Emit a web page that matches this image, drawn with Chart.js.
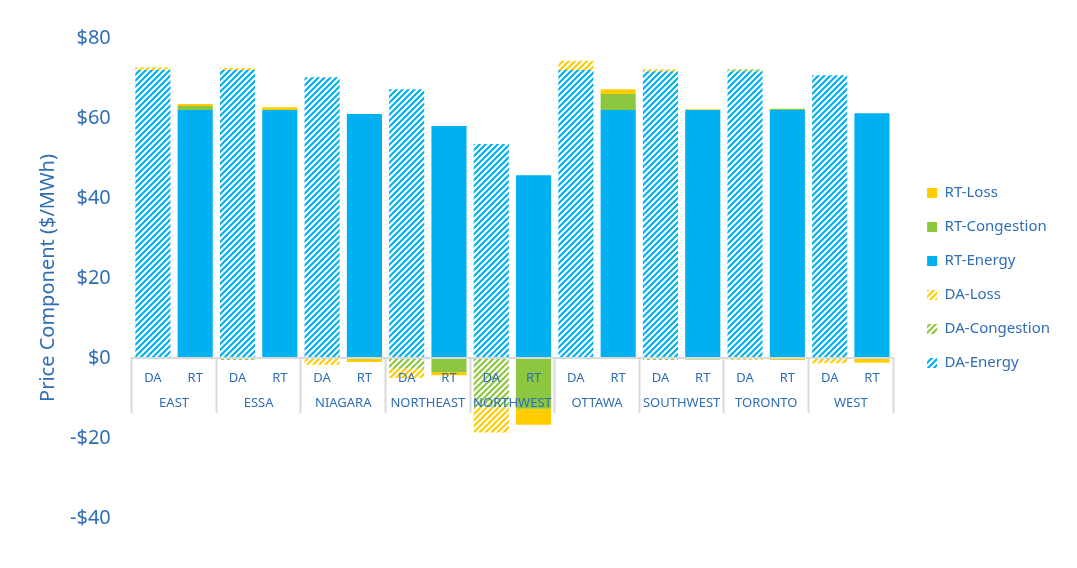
<!DOCTYPE html>
<html>
<head>
<meta charset="utf-8">
<script src="https://cdn.jsdelivr.net/npm/chart.js@4.4.1/dist/chart.umd.min.js"></script>
<style>
  html, body { margin: 0; padding: 0; background: #fff; }
  #wrap { width: 1077px; height: 568px; }
</style>
</head>
<body>
<div id="wrap"><canvas id="price_chart"></canvas></div>
<script>
// regions and bar labels
var regions = ["EAST", "ESSA", "NIAGARA", "NORTHEAST", "NORTHWEST", "OTTAWA", "SOUTHWEST", "TORONTO", "WEST"];
var barLabels = ["DA", "RT", "DA", "RT", "DA", "RT", "DA", "RT", "DA", "RT",
                 "DA", "RT", "DA", "RT", "DA", "RT", "DA", "RT"];
var yTicks = [-40, -20, 0, 20, 40, 60, 80];

// day-ahead components ($/MWh), one per region
var daEnergy     = [72.0, 72.0, 70.2, 67.2, 53.5, 72.0, 71.7, 71.7, 70.7];
var daCongestion = [0.0, -0.5, 0.0, -2.7, -12.3, 0.0, -0.5, 0.5, 0.0];
var daLoss       = [0.7, 0.5, -1.7, -2.3, -6.3, 2.3, 0.5, -0.5, -1.3];

// real-time components ($/MWh), one per region
var rtEnergy     = [62.0, 62.0, 61.0, 58.0, 45.7, 62.0, 62.0, 62.0, 61.2];
var rtCongestion = [1.0, 0.0, 0.0, -3.5, -12.7, 4.0, -0.4, 0.3, 0.0];
var rtLoss       = [0.5, 0.7, -1.0, -0.8, -4.0, 1.2, 0.2, -0.5, -1.2];

var BLUE = '#00b0f0', GREEN = '#8dc63f', YELLOW = '#ffcc00';
var TEXT = '#2f6eb5';
var FONT = "'Noto Sans', sans-serif";

// put a region value on the DA or RT slot of the 18 bars
function slot(values, isRT) {
    var out = [];
    values.forEach(function (v) {
        if (isRT) { out.push(null, v); } else { out.push(v, null); }
    });
    return out;
}

function stripes(color) {
    var c = document.createElement('canvas');
    c.width = 6; c.height = 6;
    var g = c.getContext('2d');
    g.fillStyle = '#fff';
    g.fillRect(0, 0, 6, 6);
    g.strokeStyle = color;
    g.lineWidth = 2.2;
    g.beginPath();
    g.moveTo(0, 6); g.lineTo(6, 0);
    g.moveTo(-3, 3); g.lineTo(3, -3);
    g.moveTo(3, 9); g.lineTo(9, 3);
    g.stroke();
    return g.createPattern(c, 'repeat');
}

// nudge the legend a bit away from the plot, like the original
var legendShift = {
    id: 'legendShift',
    afterLayout: function (chart) {
        chart.legend.left += 15;
        chart.legend.right += 15;
    }
};

function getChartJs() {
    var config = {
        type: 'bar',
        data: {
            labels: barLabels,
            datasets: [
                { label: "DA-Energy", data: slot(daEnergy, false), backgroundColor: stripes(BLUE) },
                { label: "DA-Congestion", data: slot(daCongestion, false), backgroundColor: stripes(GREEN) },
                { label: "DA-Loss", data: slot(daLoss, false), backgroundColor: stripes(YELLOW) },
                { label: "RT-Energy", data: slot(rtEnergy, true), backgroundColor: BLUE },
                { label: "RT-Congestion", data: slot(rtCongestion, true), backgroundColor: GREEN },
                { label: "RT-Loss", data: slot(rtLoss, true), backgroundColor: YELLOW }
            ]
        },
        plugins: [legendShift],
        options: {
            responsive: true,
            maintainAspectRatio: false,
            animation: false,
            datasets: { bar: { barPercentage: 0.83, categoryPercentage: 1.0 } },
            layout: { padding: { left: 36, right: 32, top: 38, bottom: 50 } },
            plugins: {
                tooltip: { enabled: false },
                legend: {
                    position: 'right',
                    reverse: true,
                    labels: {
                        boxWidth: 10, boxHeight: 10, padding: 19,
                        color: TEXT, font: { family: FONT, size: 15 }
                    }
                }
            },
            scales: {
                x: {
                    stacked: true,
                    position: { y: 0 },
                    grid: { display: false },
                    border: { color: '#d9d9d9', width: 2, z: 1 },
                    ticks: {
                        z: 1,
                        color: TEXT, font: { family: FONT, size: 13 },
                        padding: 4, autoSkip: false, maxRotation: 0
                    }
                },
                x2: {
                    type: 'category',
                    labels: regions,
                    offset: true,
                    position: { y: 0 },
                    border: { display: false },
                    grid: {
                        offset: true, drawOnChartArea: false, drawTicks: true,
                        tickLength: 55, tickColor: '#d9d9d9', tickWidth: 2
                    },
                    ticks: {
                        z: 1,
                        color: TEXT, font: { family: FONT, size: 13 },
                        padding: -18, autoSkip: false, maxRotation: 0, minRotation: 0
                    }
                },
                y: {
                    stacked: true,
                    min: -40, max: 80,
                    afterBuildTicks: function (axis) {
                        axis.ticks = yTicks.map(function (v) { return { value: v }; });
                    },
                    grid: { display: false, drawTicks: false },
                    border: { display: false },
                    ticks: {
                        color: TEXT, font: { family: FONT, size: 20 }, padding: 21,
                        callback: function (v) { return v < 0 ? '-$' + Math.abs(v) : '$' + v; }
                    },
                    title: {
                        display: true, text: 'Price Component ($/MWh)',
                        color: TEXT, font: { family: FONT, size: 20 },
                        padding: { top: 0, bottom: -11 }
                    }
                }
            }
        }
    };
    return config;
}

new Chart(document.getElementById("price_chart").getContext("2d"), getChartJs());
</script>
</body>
</html>
